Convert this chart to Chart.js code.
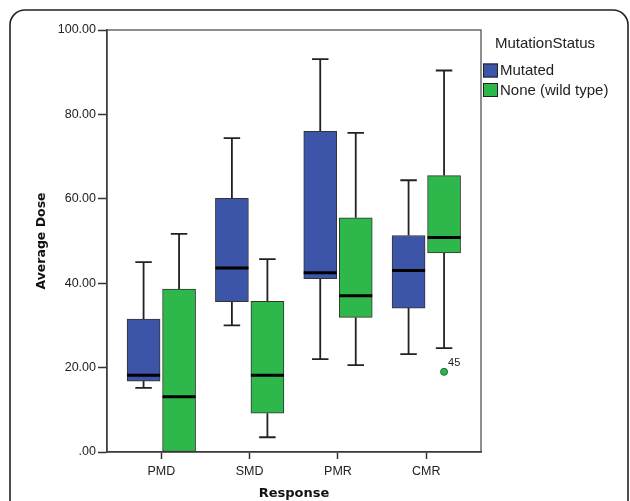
<!DOCTYPE html>
<html>
<head>
<meta charset="utf-8">
<script src="https://cdn.jsdelivr.net/npm/chart.js@4"></script>
<style>
  html, body { margin: 0; padding: 0; background: #fff; }
  #wrap { width: 630px; height: 501px; position: relative; }
</style>
</head>
<body>
<div id="wrap"><canvas id="boxChart"></canvas></div>
<script>
// Adatok
const categories = ['PMD', 'SMD', 'PMR', 'CMR'];
const seriesNames = ['Mutated', 'None (wild type)'];
const legendTitle = 'MutationStatus';

const mutatedMin    = [15.2, 30.0, 22.0, 23.2];
const mutatedQ1     = [16.8, 35.6, 41.1, 34.1];
const mutatedMedian = [18.2, 43.6, 42.5, 43.0];
const mutatedQ3     = [31.5, 60.1, 76.0, 51.3];
const mutatedMax    = [45.0, 74.4, 93.1, 64.4];

const wildMin    = [0.0, 3.5, 20.6, 24.6];
const wildQ1     = [0.0, 9.2, 31.9, 47.2];
const wildMedian = [13.1, 18.2, 37.0, 50.8];
const wildQ3     = [38.6, 35.7, 55.5, 65.5];
const wildMax    = [51.7, 45.7, 75.6, 90.4];

const outlierCategory = [3];
const outlierValue = [19.0];
const outlierLabel = ['45'];

const yTicks = [0, 20, 40, 60, 80, 100];

const BLUE = '#3d55a8';
const GREEN = '#2eb84b';
const INK = '#222';

const stats = [
    { min: mutatedMin, q1: mutatedQ1, med: mutatedMedian, q3: mutatedQ3, max: mutatedMax },
    { min: wildMin, q1: wildQ1, med: wildMedian, q3: wildQ3, max: wildMax }
];

function boxData(q1, q3) {
    return categories.map((c, i) => ({ x: i, y: [q1[i], q3[i]] }));
}

// Háttér, keretek, bajuszok, mediánok, jelmagyarázat
const framePlugin = {
    id: 'frame',
    beforeDraw(chart) {
        const c = chart.ctx;
        c.save();
        c.fillStyle = '#fff';
        c.fillRect(0, 0, chart.width, chart.height);
        c.strokeStyle = INK;
        c.lineWidth = 1.6;
        c.beginPath();
        c.roundRect(10, 10, chart.width - 12, chart.height + 30, 15);
        c.stroke();
        c.restore();
    },
    beforeDatasetsDraw(chart) {
        const c = chart.ctx;
        const a = chart.chartArea;
        const y = chart.scales.y;
        c.save();
        c.strokeStyle = '#444';
        c.lineWidth = 1.2;
        c.strokeRect(a.left, a.top, a.right - a.left, a.bottom - a.top);
        // bajuszok
        c.strokeStyle = INK;
        c.lineWidth = 1.8;
        stats.forEach((s, d) => {
            chart.getDatasetMeta(d).data.forEach((bar, i) => {
                const cap = bar.width / 4;
                const pairs = [[s.q3[i], s.max[i]], [s.q1[i], s.min[i]]];
                pairs.forEach(([from, to]) => {
                    if (from === to) return;
                    const y0 = y.getPixelForValue(from);
                    const y1 = y.getPixelForValue(to);
                    c.beginPath();
                    c.moveTo(bar.x, y0);
                    c.lineTo(bar.x, y1);
                    c.moveTo(bar.x - cap, y1);
                    c.lineTo(bar.x + cap, y1);
                    c.stroke();
                });
            });
        });
        c.restore();
    },
    afterDatasetsDraw(chart) {
        const c = chart.ctx;
        const y = chart.scales.y;
        c.save();
        // mediánok
        c.strokeStyle = '#000';
        c.lineWidth = 3;
        stats.forEach((s, d) => {
            chart.getDatasetMeta(d).data.forEach((bar, i) => {
                const py = y.getPixelForValue(s.med[i]);
                c.beginPath();
                c.moveTo(bar.x - bar.width / 2, py);
                c.lineTo(bar.x + bar.width / 2, py);
                c.stroke();
            });
        });
        // kiugró érték
        const wildBars = chart.getDatasetMeta(1).data;
        outlierCategory.forEach((ci, k) => {
            const px = wildBars[ci].x;
            const py = y.getPixelForValue(outlierValue[k]);
            c.beginPath();
            c.arc(px, py, 3.5, 0, Math.PI * 2);
            c.fillStyle = GREEN;
            c.fill();
            c.strokeStyle = '#1d6b2e';
            c.lineWidth = 1;
            c.stroke();
            c.fillStyle = INK;
            c.font = '11px "Liberation Sans", Arial, sans-serif';
            c.textBaseline = 'middle';
            c.textAlign = 'left';
            c.fillText(outlierLabel[k], px + 4, py - 9);
        });
        c.restore();
    },
    afterDraw(chart) {
        // jelmagyarázat
        const c = chart.ctx;
        const x0 = chart.chartArea.right + 2;
        c.save();
        c.font = '15px "Liberation Sans", Arial, sans-serif';
        c.fillStyle = INK;
        c.textBaseline = 'middle';
        c.textAlign = 'left';
        c.fillText(legendTitle, x0 + 12, 44);
        chart.data.datasets.forEach((ds, i) => {
            const top = 63.5 + i * 19.5;
            c.fillStyle = ds.backgroundColor;
            c.fillRect(x0, top, 15, 14);
            c.strokeStyle = INK;
            c.lineWidth = 1;
            c.strokeRect(x0 + 0.5, top + 0.5, 14, 13);
            c.fillStyle = INK;
            c.fillText(ds.label, x0 + 17, top + 7.5);
        });
        c.restore();
    }
};

const ctx = document.getElementById('boxChart').getContext('2d');
new Chart(ctx, {
    type: 'bar',
    data: {
        datasets: [
            { label: seriesNames[0], data: boxData(mutatedQ1, mutatedQ3), backgroundColor: BLUE },
            { label: seriesNames[1], data: boxData(wildQ1, wildQ3), backgroundColor: GREEN }
        ]
    },
    options: {
        responsive: true,
        maintainAspectRatio: false,
        animation: false,
        layout: { padding: { top: 30, right: 149, bottom: 0, left: 0 } },
        datasets: {
            bar: {
                barThickness: 35.5,
                maxBarThickness: 33,
                borderColor: '#333',
                borderWidth: 1,
                borderSkipped: false
            }
        },
        plugins: {
            legend: { display: false },
            tooltip: { enabled: false }
        },
        scales: {
            x: {
                type: 'linear',
                offset: false,
                min: -0.615,
                max: 3.619,
                afterBuildTicks: s => { s.ticks = categories.map((c, i) => ({ value: i })); },
                afterFit: s => { s.height = 49; },
                ticks: {
                    callback: v => categories[v],
                    color: INK,
                    font: { family: '"Liberation Sans", Arial, sans-serif', size: 12.5 },
                    padding: 5,
                    maxRotation: 0,
                    autoSkip: false
                },
                grid: { offset: false, drawOnChartArea: false, tickLength: 7, tickColor: '#333', tickWidth: 1.5 },
                border: { color: '#333', width: 1.5 },
                title: {
                    display: true,
                    text: 'Response',
                    color: '#111',
                    font: { family: '"DejaVu Sans", sans-serif', size: 13, weight: 'bold' },
                    padding: { top: 0, bottom: 0 }
                }
            },
            y: {
                min: 0,
                max: 100,
                afterBuildTicks: s => { s.ticks = yTicks.map(v => ({ value: v })); },
                afterFit: s => { s.width = 107; },
                ticks: {
                    callback: v => v === 0 ? '.00' : v.toFixed(2),
                    color: INK,
                    font: { family: '"Liberation Sans", Arial, sans-serif', size: 12.5 },
                    padding: 2
                },
                grid: { drawOnChartArea: false, tickLength: 9, tickColor: '#333', tickWidth: 1.5 },
                border: { color: '#333', width: 1.5 },
                title: {
                    display: true,
                    text: 'Average Dose',
                    color: '#111',
                    font: { family: '"DejaVu Sans", sans-serif', size: 12.5, weight: 'bold' },
                    padding: { top: 34, bottom: 0 }
                }
            }
        }
    },
    plugins: [framePlugin]
});
</script>
</body>
</html>
